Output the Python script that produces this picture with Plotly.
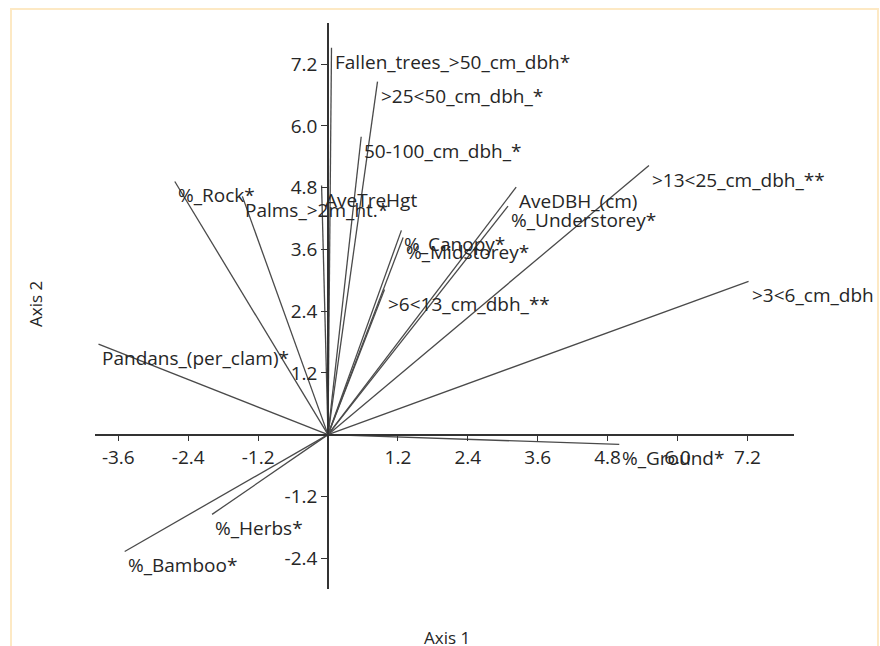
import plotly.graph_objects as go

names = ["Fallen_trees_>50_cm_dbh*", ">25<50_cm_dbh_*", "50-100_cm_dbh_*", "%_Rock*",
         "AveTreHgt", "Palms_>2m_ht.*", "%_Canopy*", "%_Midstorey*", ">6<13_cm_dbh_**",
         "AveDBH_(cm)", "%_Understorey*", ">13<25_cm_dbh_**", ">3<6_cm_dbh",
         "Pandans_(per_clam)*", "%_Herbs*", "%_Bamboo*", "%_Ground*"]
axis1 = [0.06, 0.85, 0.57, -2.63, -0.11, -1.47, 1.26, 1.29, 0.97,
         3.23, 3.09, 5.51, 7.22, -3.94, -1.99, -3.49, 5.00]
axis2 = [7.52, 6.86, 5.79, 4.92, 4.84, 4.63, 3.97, 3.83, 2.82,
         4.81, 4.44, 5.23, 2.98, 1.76, -1.55, -2.27, -0.19]

x_ticks = [-3.6, -2.4, -1.2, 1.2, 2.4, 3.6, 4.8, 6.0, 7.2]
x_tick_text = ["-3.6", "-2.4", "-1.2", "1.2", "2.4", "3.6", "4.8", "6.0", "7.2"]
y_ticks = [-2.4, -1.2, 1.2, 2.4, 3.6, 4.8, 6.0, 7.2]
y_tick_text = ["-2.4", "-1.2", "1.2", "2.4", "3.6", "4.8", "6.0", "7.2"]
x_range = [-4.0, 8.0]
y_range = [-3.0, 8.0]

FONT = "Open Sans"
FS = 19
fig = go.Figure()

lx, ly = [], []
for x, y in zip(axis1, axis2):
    lx += [0, x, None]
    ly += [0, y, None]
fig.add_trace(go.Scatter(x=lx, y=ly, mode="lines",
                         line=dict(color="#4a4a4a", width=1.3),
                         hoverinfo="skip", showlegend=False))

for n, x, y in zip(names, axis1, axis2):
    fig.add_annotation(x=x, y=y, text=n, showarrow=False, xanchor="left", yanchor="top",
                       xshift=1, yshift=1, font=dict(family=FONT, size=FS, color="#262626"))

xpos = (0 - y_range[0]) / (y_range[1] - y_range[0])
ypos = (0 - x_range[0]) / (x_range[1] - x_range[0])

axis_common = dict(showgrid=False, zeroline=False, showline=True, linecolor="#333333",
                   linewidth=1.5, ticks="outside", ticklen=6, tickwidth=1.3,
                   tickcolor="#333333", automargin=False,
                   tickfont=dict(family=FONT, size=FS, color="#262626"))

fig.update_layout(
    width=880, height=646,
    margin=dict(l=95, r=86, t=23, b=57),
    paper_bgcolor="white", plot_bgcolor="white",
    xaxis=dict(range=x_range, tickvals=x_ticks, ticktext=x_tick_text,
               anchor="free", position=xpos, **axis_common),
    yaxis=dict(range=y_range, tickvals=y_ticks, ticktext=y_tick_text,
               anchor="free", position=ypos, **axis_common),
    shapes=[dict(type="rect", xref="paper", yref="paper",
                 x0=(11 - 95) / 699, x1=(878 - 95) / 699,
                 y0=(589 - 660) / 566, y1=(589 - 9) / 566,
                 line=dict(color="#fde9c4", width=2), fillcolor="rgba(0,0,0,0)", layer="below")],
)
fig.add_annotation(text="Axis 1", xref="paper", yref="paper", x=(447 - 95) / 699,
                   y=(589 - 637) / 566, showarrow=False, xanchor="center", yanchor="middle",
                   font=dict(family=FONT, size=17, color="#262626"))
fig.add_annotation(text="Axis 2", xref="paper", yref="paper", x=(35 - 95) / 699,
                   y=(589 - 304) / 566, showarrow=False, xanchor="center", yanchor="middle",
                   textangle=-90,
                   font=dict(family=FONT, size=17, color="#262626"))

fig.write_html("out.html", config={"displayModeBar": False})
with open("out.html", "r", encoding="utf-8") as f:
    html = f.read()
html = html.replace("<body>", '<body style="margin:0;padding:0;overflow:hidden">', 1)
with open("out.html", "w", encoding="utf-8") as f:
    f.write(html)
